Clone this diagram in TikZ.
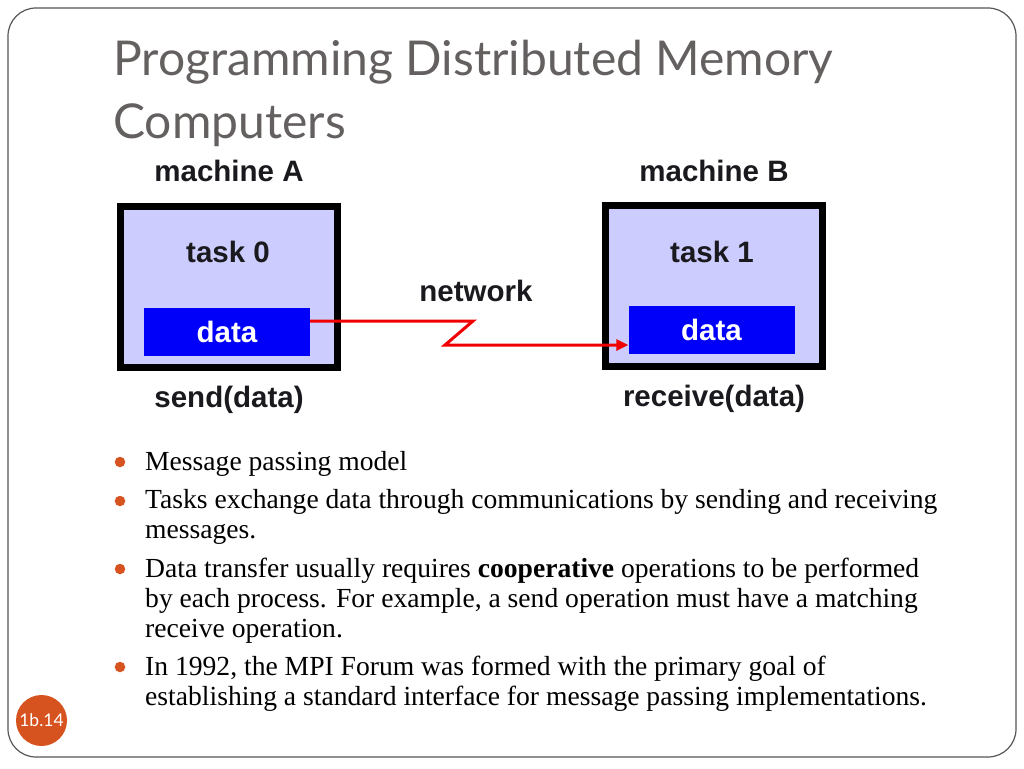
\documentclass[tikz,border=0pt]{standalone}
\usepackage{fontspec}
\setmainfont{Liberation Serif}
\newfontfamily\titlefont{Lato}
\newfontfamily\diagfont{Liberation Sans}
\usepackage{tikz}
\usetikzlibrary{arrows.meta,positioning}
\usepackage{xcolor}
\definecolor{slidegray}{RGB}{100,96,96}
\definecolor{slideorange}{RGB}{214,82,30}
\definecolor{framegray}{RGB}{85,85,85}
\definecolor{machfill}{RGB}{204,204,255}
\definecolor{datablue}{RGB}{0,0,250}
\definecolor{netred}{RGB}{240,0,0}
\definecolor{inkdark}{RGB}{25,25,30}
\tikzstyle{netarrow} = [line width=3pt,-{Triangle[length=12pt,width=11pt]},color=netred]
\tikzstyle{machinebox} = [rectangle, draw=black, line width=7pt, fill=machfill, minimum width=217pt, minimum height=161pt]
\tikzstyle{databox} = [rectangle, fill=datablue, minimum width=166pt, minimum height=48pt, text=white, font=\diagfont\bfseries\fontsize{29.5}{32}\selectfont]
\tikzstyle{diaglabel} = [inner sep=0pt, text=inkdark, font=\diagfont\bfseries\fontsize{29.5}{32}\selectfont]
\tikzstyle{bullettext} = [anchor=base west, align=left, inner sep=0pt, font=\fontsize{27.6}{30}\selectfont]
\tikzstyle{bulletdot} = [circle, fill=slideorange, minimum size=10.5pt, inner sep=0pt]

\begin{document}
\begin{tikzpicture}[x=1pt, y=-1pt]
\useasboundingbox (0,0) rectangle (1024,768);
% Slide frame and title (multi-line nodes sit on their last baseline)
\draw[framegray, line width=1.2pt, rounded corners=28pt] (8,8) rectangle (1016,757);
\node[anchor=base west, align=left, inner sep=0pt, text=slidegray, font=\titlefont\fontsize{48}{63}\selectfont] (title) at (113,138) {Programming Distributed Memory\\Computers};

% Machine A
\node[machinebox] (machA) at (229,287) {};
\node[diaglabel, above=21pt of machA] (nameA) {machine A};
\node[diaglabel] (taskA) at (228,252) {task 0};
\node[databox] (dataA) at (227,332) {data};
\node[diaglabel, below=15pt of machA] (sendA) {send(data)};

% Machine B
\node[machinebox] (machB) at (714,285.5) {};
\node[diaglabel, above=20pt of machB] (nameB) {machine B};
\node[diaglabel] (taskB) at (712,252) {task 1};
\node[databox] (dataB) at (711.5,330) {data};
\node[diaglabel, below=15pt of machB] (recvB) {receive(data)};

% Network
\node[diaglabel] (net) at (476,291) {network};
\coordinate (zig1) at (473,321);
\coordinate (zig2) at (445,345);
\draw[netarrow] ([yshift=11pt]dataA.east) -- (zig1) -- (zig2) -- ([yshift=-15pt]dataB.west);

% Bullets
\node[bulletdot] (d1) at (120,462) {};
\node[bullettext] (b1) at (145,470) {Message passing model};
\node[bulletdot] (d2) at (120,501) {};
\node[bullettext] (b2) at (145,538) {Tasks exchange data through communications by sending and receiving\\messages.};
\node[bulletdot] (d3) at (120,569) {};
\node[bullettext] (b3) at (145,637) {Data transfer usually requires \textbf{cooperative} operations to be performed\\by each process. For example, a send operation must have a matching\\receive operation.};
\node[bulletdot] (d4) at (120,667) {};
\node[bullettext] (b4) at (145,705) {In 1992, the MPI Forum was formed with the primary goal of\\establishing a standard interface for message passing implementations.};

% Slide number
\node[circle, fill=slideorange, minimum size=51pt, inner sep=0pt, text=white, font=\titlefont\fontsize{17.5}{18}\selectfont] (pagenum) at (41.5,720.5) {1b.14};
\end{tikzpicture}
\end{document}
